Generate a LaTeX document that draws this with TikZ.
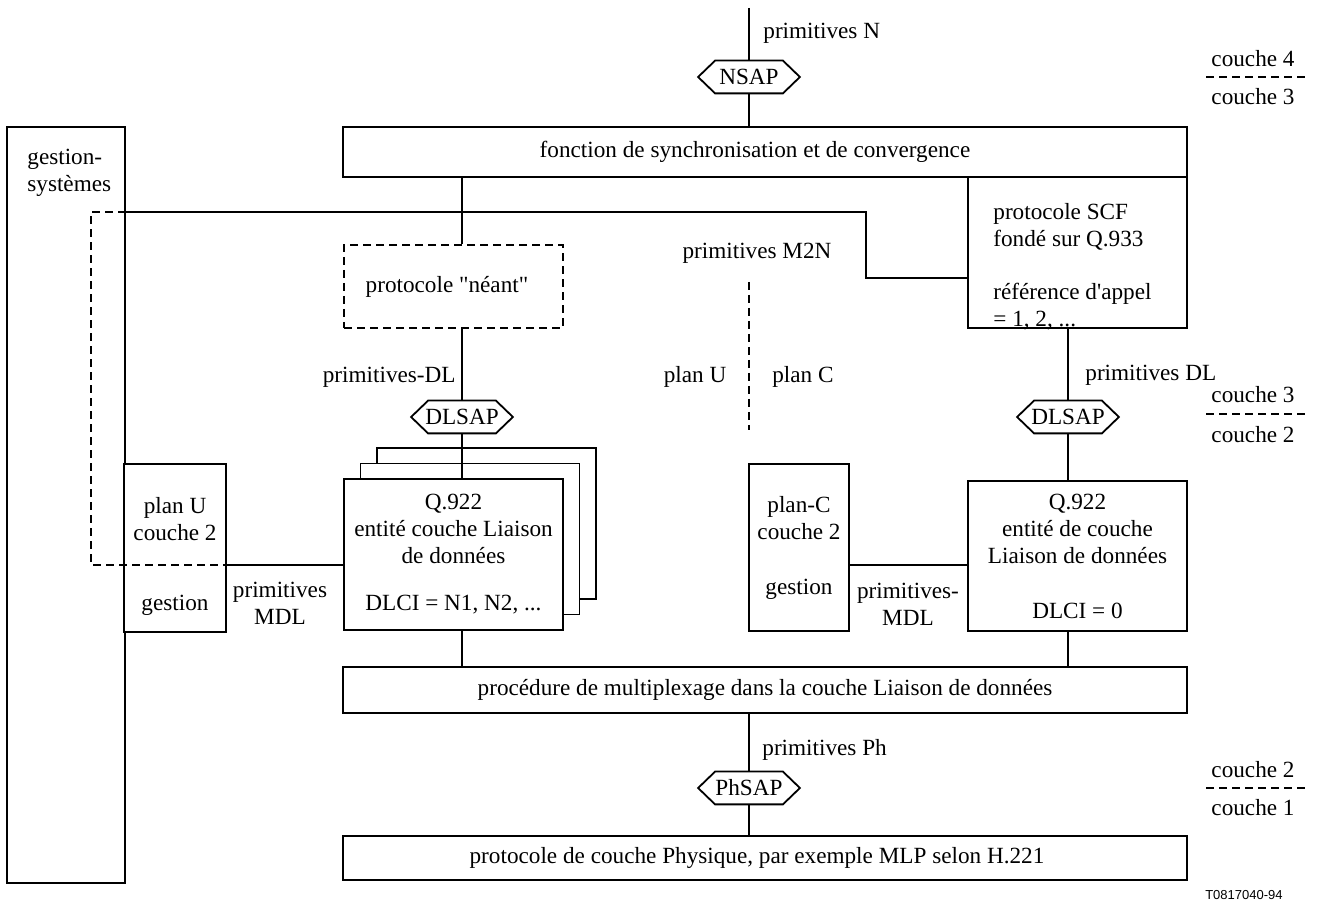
\documentclass[tikz,border=0pt]{standalone}
\usepackage{fontspec}
\setmainfont{Liberation Serif}
\newfontfamily\labelsans{Liberation Sans}
\usetikzlibrary{calc}
% hexagonal service access point drawn round a named node
\newcommand\hexframe[1]{%
  \draw[saplink] ([xshift=8.5pt]#1.north west) -- ([xshift=-8.5pt]#1.north east)
    -- (#1.east) -- ([xshift=-8.5pt]#1.south east)
    -- ([xshift=8.5pt]#1.south west) -- (#1.west) -- cycle;}
\begin{document}
\begin{tikzpicture}[x=0.5pt,y=-0.5pt,
  font=\fontsize{11.6}{13.5}\selectfont,
  box/.style={draw, line width=0.7pt, fill=white, inner sep=0pt, align=center},
  dbox/.style={box, dash pattern=on 4pt off 2.5pt},
  link/.style={line width=0.9pt},
  dlink/.style={line width=0.9pt, dash pattern=on 4pt off 2.5pt},
  saplink/.style={line width=0.9pt},
  sap/.style={inner sep=0pt, minimum width=50.5pt, minimum height=16pt},
  txt/.style={inner sep=0pt, align=center},
  layer/.style={inner sep=0pt},
]
\useasboundingbox (0,0) rectangle (1319,903);

% column positions of the vertical connectors
\coordinate (colL) at (462,0);
\coordinate (colC) at (749,0);
\coordinate (colR) at (1068,0);

% system management block
\node[box, minimum width=59pt, minimum height=378pt] (gs) at (66,505) {};
\node[txt, align=left, anchor=north west] (gst) at (27,149) {gestion-\\systèmes};

% convergence function
\node[box, minimum width=422pt, minimum height=25pt] (fsc) at (765,152) {};
\node[txt] (fsct) at (755,152) {fonction de synchronisation et de convergence};

% null protocol (U-plane)
\node[dbox, minimum width=109.5pt, minimum height=41.5pt] (nul) at (453.5,286.5) {};
\node[txt] (nult) at (447,287) {protocole \textquotedbl néant\textquotedbl};

% SCF protocol (C-plane)
\node[box, minimum width=109.5pt, minimum height=75.5pt] (scf) at (1077.5,252.5) {};
\node[txt, align=left, anchor=north west] (scft) at (993,203)
  {protocole SCF\\fondé sur Q.933\\[13pt]référence d\textquotesingle appel\\= 1, 2, ...};

% stacked U-plane data link entities
\node[box, minimum width=109.5pt, minimum height=75.5pt] (qL3) at (486.5,523.5) {};
\node[box, minimum width=109.5pt, minimum height=75.5pt] (qL2) at (470,539) {};
\node[box, minimum width=109.5pt, minimum height=75.5pt] (qL1) at (453.5,554.5)
  {Q.922\\entité couche Liaison\\de données\\[10pt]DLCI = N1, N2, ...};

% C-plane data link entity
\node[box, minimum width=109.5pt, minimum height=75pt] (qR) at (1077.5,556)
  {Q.922\\entité de couche\\Liaison de données\\[14pt]DLCI = 0};

% layer 2 management boxes
\node[box, minimum width=51pt, minimum height=84pt] (uL) at (175,548) {};
\node[txt] (uLt) at (175,556) {plan U\\couche 2\\[21.5pt]gestion};
\node[box, minimum width=50pt, minimum height=83.5pt] (cL) at (799,547.5)
  {plan-C\\couche 2\\[14pt]gestion};

% multiplexing and physical layer
\node[box, minimum width=422pt, minimum height=23pt] (mux) at (765,690)
  {procédure de multiplexage dans la couche Liaison de données};
\node[box, minimum width=422pt, minimum height=22pt] (phys) at (765,858) {};
\node[txt] (physt) at (757,858) {protocole de couche Physique, par exemple MLP selon H.221};

% service access points
\node[sap] (nsap) at (749,77) {NSAP};
\node[sap] (dlsapL) at (462,417) {DLSAP};
\node[sap] (dlsapR) at (1068,417) {DLSAP};
\node[sap] (phsap) at (749,788) {PhSAP};
\hexframe{nsap}
\hexframe{dlsapL}
\hexframe{dlsapR}
\hexframe{phsap}

% vertical connectors
\coordinate (top) at (749,8);
\draw[link] (top) -- (nsap.north);
\draw[link] (nsap.south) -- (colC |- fsc.north);
\draw[link] (colL |- fsc.south) -- (colL |- nul.north);
\draw[link] (colL |- nul.south) -- (dlsapL.north);
\draw[link] (dlsapL.south) -- (colL |- qL1.north);
\draw[link] (colL |- qL1.south) -- (colL |- mux.north);
\draw[link] (colR |- scf.south) -- (dlsapR.north);
\draw[link] (dlsapR.south) -- (colR |- qR.north);
\draw[link] (colR |- qR.south) -- (colR |- mux.north);
\draw[link] (colC |- mux.south) -- (phsap.north);
\draw[link] (phsap.south) -- (colC |- phys.north);

% management connectors
\coordinate (dt) at (91,212);
\coordinate (db) at (91,565);
\coordinate (knee) at (866,278);
\draw[link] (gs.east |- dt) -| (knee) -- (scf.west |- knee);
\draw[dlink] (gs.east |- dt) -- (dt) -- (db) -- (uL.east |- db);
\draw[link] (uL.east |- db) -- (qL1.west |- db);
\draw[link] (cL.east |- db) -- (qR.west |- db);

% U-plane / C-plane divider
\coordinate (div1) at (749,282);
\coordinate (div2) at (749,430);
\draw[dlink] (div1) -- (div2);

% primitive labels
\node[layer, anchor=west] (pN) at (763,33) {primitives N};
\node[layer] (pM2N) at (757,253) {primitives M2N};
\node[layer, anchor=east] (pDLl) at (456,377) {primitives-DL};
\node[layer] (pU) at (695,377) {plan U};
\node[layer] (pC) at (803,377) {plan C};
\node[layer, anchor=west] (pDLr) at (1085,375) {primitives DL};
\node[txt] (pMDLl) at (280,603) {primitives\\MDL};
\node[txt] (pMDLr) at (908,604) {primitives-\\MDL};
\node[layer, anchor=west] (pPh) at (762,750) {primitives Ph};

% layer boundaries
\node[layer] (c4) at (1253,59) {couche 4};
\node[layer] (c3a) at (1253,97) {couche 3};
\coordinate (b1a) at (1206,77);
\coordinate (b1b) at (1307,77);
\draw[dlink] (b1a) -- (b1b);
\node[layer] (c3b) at (1253,395) {couche 3};
\node[layer] (c2a) at (1253,435) {couche 2};
\coordinate (b2a) at (1206,414);
\coordinate (b2b) at (1307,414);
\draw[dlink] (b2a) -- (b2b);
\node[layer] (c2b) at (1253,770) {couche 2};
\node[layer] (c1) at (1253,808) {couche 1};
\coordinate (b3a) at (1206,788);
\coordinate (b3b) at (1307,788);
\draw[dlink] (b3a) -- (b3b);

\node[layer, anchor=east, font=\labelsans\fontsize{6.5}{8}\selectfont] (ref) at (1283,895) {T0817040-94};
\end{tikzpicture}
\end{document}
